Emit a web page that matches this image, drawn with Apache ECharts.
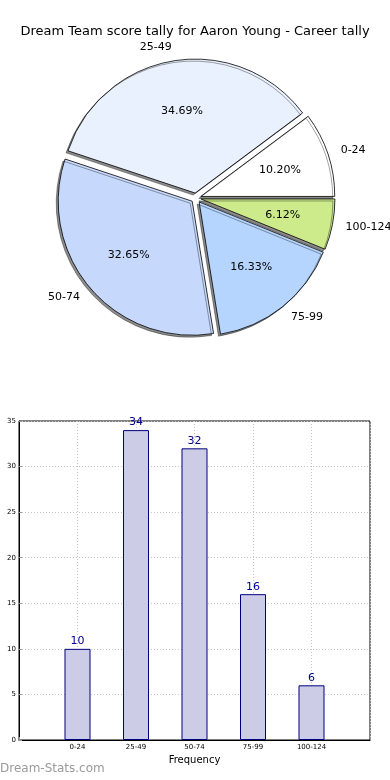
<!DOCTYPE html>
<html>
<head>
<meta charset="utf-8">
<script src="https://cdn.jsdelivr.net/npm/echarts@6/dist/echarts.min.js"></script>
<style>html,body{margin:0;padding:0;background:#fff;}#c{width:390px;height:780px;}</style>
</head>
<body>
<div id="c"></div>
<script>
var titleText = 'Dream Team score tally for Aaron Young - Career tally';
var categories = ['0-24', '25-49', '50-74', '75-99', '100-124'];
var values = [10, 34, 32, 16, 6];
var pieColors = ['#ffffff', '#eaf1fe', '#c6d9fd', '#b5d5fe', '#cdeb8b'];
var yTicks = [0, 5, 10, 15, 20, 25, 30, 35];
var xLabel = 'Frequency';
var yLabel = 'Score Interval';
var watermark = 'Dream-Stats.com';

var total = values.reduce(function (a, b) { return a + b; }, 0);
var F = 'DejaVu Sans';
var R = 134, CX = 196, CY = 198, OFF = 5;

var pieData = categories.map(function (c, i) {
  return { name: c, value: values[i], selected: true, itemStyle: { color: pieColors[i] } };
});
var pctData = categories.map(function (c, i) {
  return { name: c, value: values[i], selected: true };
});

var chart = echarts.init(document.getElementById('c'), null, { renderer: 'canvas' });
chart.setOption({
  animation: false,
  backgroundColor: '#ffffff',
  title: {
    text: titleText, left: 'center', top: 20,
    textStyle: { fontFamily: F, fontSize: 13, fontWeight: 'normal', color: '#000' }
  },
  graphic: [{
    type: 'text', left: 0, top: 763,
    style: { text: watermark, font: '12px "DejaVu Sans"', fill: '#9a9a9a' }
  }],
  grid: {
    left: 19, right: 20, top: 421, bottom: 40, containLabel: false, outerBoundsMode: 'none',
    show: true, borderColor: '#000', borderWidth: 1, backgroundColor: 'transparent'
  },
  xAxis: {
    type: 'value', min: 0, max: categories.length + 1, interval: 1,
    name: xLabel, nameLocation: 'middle', nameGap: 15,
    nameTextStyle: { fontFamily: F, fontSize: 10, color: '#000' },
    axisLine: { show: true, lineStyle: { color: '#000' } },
    axisTick: { show: true, inside: true, length: 3, lineStyle: { color: '#999' } },
    axisLabel: {
      fontFamily: F, fontSize: 7, color: '#000', margin: 4,
      formatter: function (v) { return categories[v - 1] || ''; }
    },
    splitLine: { show: true, lineStyle: { color: '#c8c8c8', type: [1, 2] } }
  },
  yAxis: {
    type: 'value', min: yTicks[0], max: yTicks[yTicks.length - 1], interval: 5,
    name: yLabel, nameLocation: 'middle', nameGap: 21, nameRotate: 90,
    nameTextStyle: { fontFamily: F, fontSize: 10, color: '#000' },
    axisLine: { show: true, lineStyle: { color: '#000' } },
    axisTick: { show: true, inside: true, length: 3, lineStyle: { color: '#999' } },
    axisLabel: { fontFamily: F, fontSize: 7, color: '#000', margin: 3 },
    splitLine: { show: true, lineStyle: { color: '#c8c8c8', type: [1, 2] } }
  },
  series: [
    {
      type: 'pie', center: [CX, CY], radius: [0, R],
      startAngle: 0, clockwise: false,
      selectedMode: 'multiple', selectedOffset: OFF,
      avoidLabelOverlap: false, silent: true,
      data: pieData,
      itemStyle: {
        borderColor: '#000', borderWidth: 0.8,
        shadowColor: 'rgba(0,0,0,0.45)', shadowBlur: 0, shadowOffsetX: -2, shadowOffsetY: 2
      },
      label: {
        show: true, position: 'outside', formatter: '{b}',
        fontFamily: F, fontSize: 11, color: '#000', distanceToLabelLine: 0
      },
      labelLine: { show: false, length: R * 0.1, length2: 0 },
      emphasis: { disabled: true },
      z: 2
    },
    {
      type: 'pie', center: [CX, CY], radius: [0, R * 1.2],
      startAngle: 0, clockwise: false,
      selectedMode: 'multiple', selectedOffset: OFF,
      avoidLabelOverlap: false, silent: true,
      data: pctData,
      itemStyle: { color: 'rgba(0,0,0,0)', borderWidth: 0 },
      label: {
        show: true, position: 'inside',
        formatter: function (p) { return (p.value / total * 100).toFixed(2) + '%'; },
        fontFamily: F, fontSize: 11, color: '#000'
      },
      labelLine: { show: false },
      emphasis: { disabled: true },
      z: 3
    },
    {
      type: 'bar', barWidth: 26,
      data: values.map(function (v, i) { return [i + 1, v]; }),
      itemStyle: { color: '#ccccE6', borderColor: '#000080', borderWidth: 1 },
      label: {
        show: true, position: 'top', distance: 2,
        fontFamily: F, fontSize: 11, color: '#00008b',
        formatter: function (p) { return p.value[1]; }
      },
      emphasis: { disabled: true },
      z: 1
    }
  ]
});
</script>
</body>
</html>
